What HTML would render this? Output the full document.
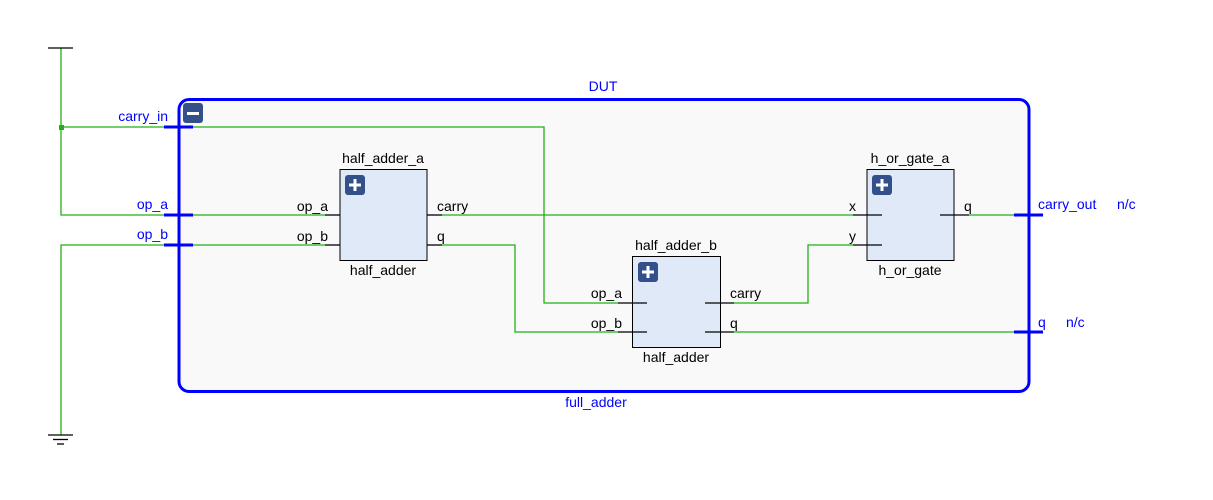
<!DOCTYPE html>
<html><head><meta charset="utf-8"><style>
html,body{margin:0;padding:0;background:#fff;}
svg{display:block;}
text{font-family:"Liberation Sans",sans-serif;font-size:14px;}
.b{fill:#0000ff;}
.k{fill:#000;}
</style></head><body>
<svg width="1213" height="500" xmlns="http://www.w3.org/2000/svg">
<rect width="1213" height="500" fill="#fff"/>
<rect x="179" y="99.5" width="850" height="292" rx="10" fill="#f9f9f9" stroke="#0000ff" stroke-width="3"/>
<text x="603" y="91" class="b" text-anchor="middle">DUT</text>
<text x="596" y="407" class="b" text-anchor="middle">full_adder</text>
<rect x="183" y="103" width="20" height="20" rx="3" fill="#34508a"/>
<rect x="187" y="112" width="12" height="3" fill="#fff"/>
<g stroke="#22b014" stroke-width="1.3" fill="none">
<polyline points="61,48 61,215 325,215"/>
<polyline points="61,127 544,127 544,303 618,303"/>
<polyline points="61,435 61,245 325,245"/>
<polyline points="442,215 853,215"/>
<polyline points="442,245 515,245 515,332 618,332"/>
<polyline points="734,303 808,303 808,245 853,245"/>
<polyline points="734,332 1015,332"/>
<polyline points="969,215 1015,215"/>
</g>
<rect x="59" y="125" width="5" height="5" fill="#22b014"/>
<g stroke="#000" stroke-width="1.3">
<line x1="48" y1="48" x2="73" y2="48"/>
<line x1="48" y1="435" x2="73" y2="435"/>
<line x1="53" y1="439.5" x2="68" y2="439.5"/>
<line x1="57" y1="444" x2="64" y2="444"/>
</g>
<g stroke="#0000ff" stroke-width="3">
<line x1="164" y1="127" x2="193" y2="127"/>
<line x1="164" y1="215" x2="193" y2="215"/>
<line x1="164" y1="245" x2="193" y2="245"/>
<line x1="1014" y1="215" x2="1043" y2="215"/>
<line x1="1014" y1="332" x2="1043" y2="332"/>
</g>
<text x="168" y="121" class="b" text-anchor="end">carry_in</text>
<text x="168" y="209" class="b" text-anchor="end">op_a</text>
<text x="168" y="239" class="b" text-anchor="end">op_b</text>
<text x="1038" y="209" class="b">carry_out</text>
<text x="1117" y="209" class="b">n/c</text>
<text x="1038" y="327" class="b">q</text>
<text x="1066" y="327" class="b">n/c</text>
<rect x="340" y="169.5" width="87" height="91" fill="#dfe9f7" stroke="#000" stroke-width="1"/>
<rect x="345" y="175" width="20" height="20" rx="3" fill="#34508a"/>
<rect x="349" y="183.5" width="12" height="3" fill="#fff"/><rect x="353.5" y="179" width="3" height="12" fill="#fff"/>
<g stroke="#000" stroke-width="1.3"><line x1="325" y1="215" x2="340" y2="215"/><line x1="325" y1="245" x2="340" y2="245"/><line x1="427" y1="215" x2="442" y2="215"/><line x1="427" y1="245" x2="442" y2="245"/></g>
<text x="383" y="163" class="k" text-anchor="middle">half_adder_a</text>
<text x="383" y="275" class="k" text-anchor="middle">half_adder</text>
<text x="328" y="211" class="k" text-anchor="end">op_a</text>
<text x="328" y="241" class="k" text-anchor="end">op_b</text>
<text x="437" y="211" class="k">carry</text>
<text x="437" y="241" class="k">q</text>
<rect x="632.5" y="256.5" width="88" height="91" fill="#dfe9f7" stroke="#000" stroke-width="1"/>
<rect x="638" y="262" width="20" height="20" rx="3" fill="#34508a"/>
<rect x="642" y="270.5" width="12" height="3" fill="#fff"/><rect x="646.5" y="266" width="3" height="12" fill="#fff"/>
<g stroke="#000" stroke-width="1.3"><line x1="618" y1="303" x2="647" y2="303"/><line x1="618" y1="332" x2="647" y2="332"/><line x1="705" y1="303" x2="734" y2="303"/><line x1="705" y1="332" x2="734" y2="332"/></g>
<text x="676" y="250" class="k" text-anchor="middle">half_adder_b</text>
<text x="676" y="362" class="k" text-anchor="middle">half_adder</text>
<text x="622" y="298" class="k" text-anchor="end">op_a</text>
<text x="622" y="328" class="k" text-anchor="end">op_b</text>
<text x="730" y="298" class="k">carry</text>
<text x="730" y="328" class="k">q</text>
<rect x="867" y="169.5" width="87" height="91" fill="#dfe9f7" stroke="#000" stroke-width="1"/>
<rect x="872" y="175" width="20" height="20" rx="3" fill="#34508a"/>
<rect x="876" y="183.5" width="12" height="3" fill="#fff"/><rect x="880.5" y="179" width="3" height="12" fill="#fff"/>
<g stroke="#000" stroke-width="1.3"><line x1="853" y1="215" x2="882" y2="215"/><line x1="853" y1="245" x2="882" y2="245"/><line x1="940" y1="215" x2="969" y2="215"/></g>
<text x="910" y="163" class="k" text-anchor="middle">h_or_gate_a</text>
<text x="910" y="275" class="k" text-anchor="middle">h_or_gate</text>
<text x="856" y="211" class="k" text-anchor="end">x</text>
<text x="856" y="241" class="k" text-anchor="end">y</text>
<text x="964" y="211" class="k">q</text>
</svg>
</body></html>
